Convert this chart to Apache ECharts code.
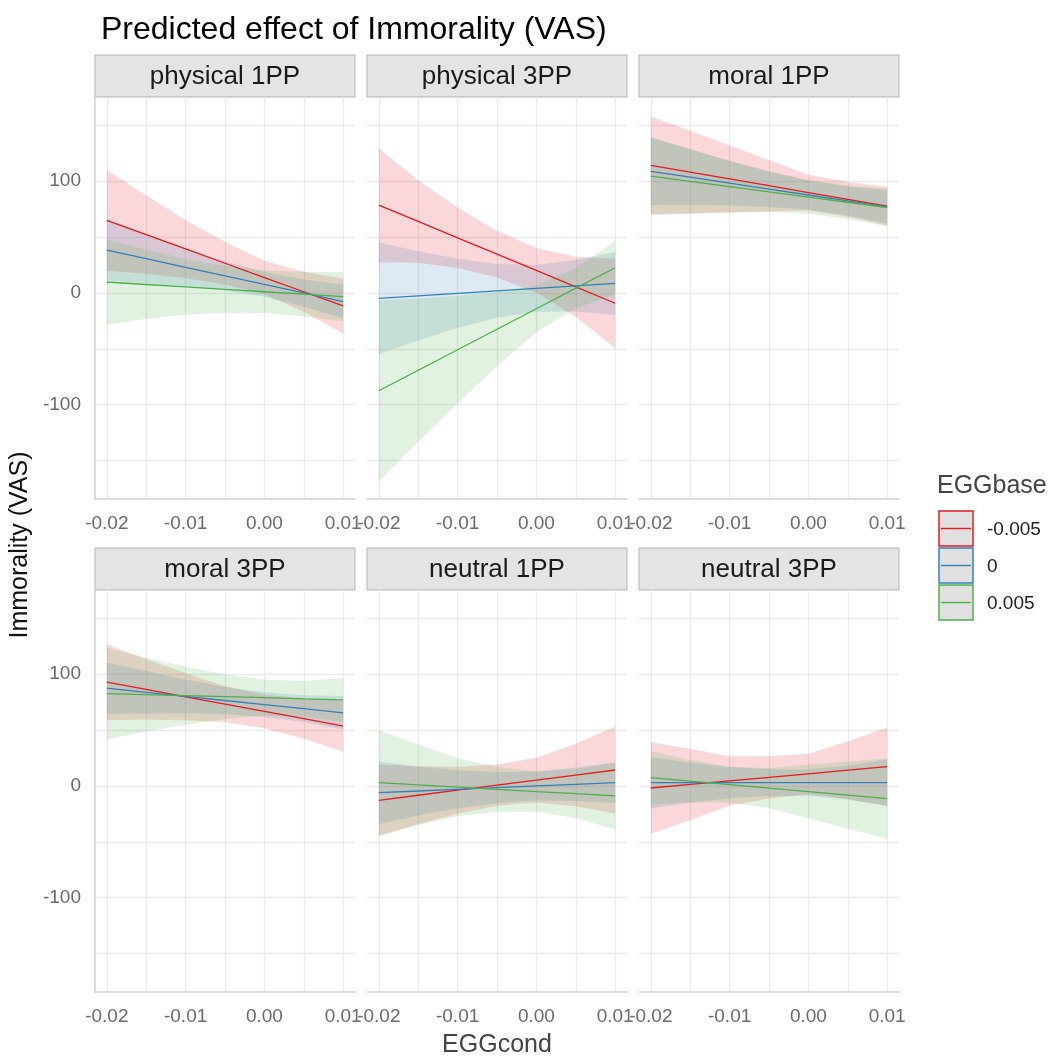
<!DOCTYPE html>
<html><head><meta charset="utf-8">
<script src="https://cdn.jsdelivr.net/npm/echarts@6/dist/echarts.min.js"></script>
<style>html,body{margin:0;padding:0;background:#fff}#c{width:1054px;height:1064px}</style>
</head><body><div id="c"></div>
<script>
// ---------- data ----------
const eggcond = [-0.02, -0.015, -0.01, -0.005, 0, 0.005, 0.01];
const eggbase = ['-0.005', '0', '0.005'];
const panelNames = ['physical 1PP', 'physical 3PP', 'moral 1PP', 'moral 3PP', 'neutral 1PP', 'neutral 3PP'];
const xTickLabels = [-0.02, -0.01, 0.00, 0.01];
const xGridValues = [-0.02, -0.015, -0.01, -0.005, 0, 0.005, 0.01];
const yTickLabels = [-100, 0, 100];
const yGridValues = [-150, -100, -50, 0, 50, 100, 150];

// per panel: rows = EGGbase -0.005, 0, 0.005
const phys1_fit = [[65, 52.2, 39.4, 26.6, 13.8, 1.1, -11.6], [38.4, 30.7, 23, 15.3, 7.7, 0, -7.7], [9.8, 7.6, 5.4, 3.2, 1.1, -1.1, -3.3]];
const phys1_hi  = [[110, 87.2, 65.4, 45.6, 28.8, 19.1, 13], [65.4, 52.7, 40, 28.3, 18.7, 12, 7.3], [47.8, 38.6, 30.4, 24.2, 20.1, 18.9, 18.7]];
const phys1_lo  = [[20, 17.2, 13.4, 7.6, -1.2, -16.9, -36.2], [11.4, 8.7, 6, 2.3, -3.3, -12, -22.7], [-28.2, -23.4, -19.6, -17.8, -17.9, -21.1, -25.3]];

const phys3_fit = [[78.6, 64, 49.4, 34.8, 20.2, 5.5, -9.2], [-4.8, -2.6, -0.3, 1.9, 4.1, 6.4, 8.6], [-87.5, -69.2, -50.8, -32.5, -14.1, 4.3, 22.6]];
const phys3_hi  = [[129.6, 101, 76.4, 55.8, 40.2, 32.5, 30.8], [45.2, 37.4, 30.7, 25.9, 25.1, 29.4, 36.6], [-6.5, -5.2, -2.8, 0.5, 6.9, 22.3, 46.6]];
const phys3_lo  = [[27.6, 27, 22.4, 13.8, 0.2, -21.5, -49.2], [-54.8, -42.6, -31.3, -22.1, -16.9, -16.6, -19.4], [-168.5, -133.2, -98.8, -65.5, -35.1, -13.7, -1.4]];

const moral1_fit = [[114.3, 108.2, 102.1, 96, 89.9, 83.8, 77.7], [108.9, 103.6, 98.3, 93, 87.7, 82.4, 77.1], [104.5, 99.8, 95.2, 90.5, 85.8, 81.2, 76.5]];
const moral1_hi  = [[158, 145.2, 132.1, 119, 105.9, 99.4, 95], [138.9, 128.6, 118.3, 109, 100.7, 95.4, 92.1], [139.5, 128.8, 118.2, 108.5, 100.8, 96.2, 93.5]];
const moral1_lo  = [[70.6, 71.2, 72.1, 73, 73.9, 68.2, 60.4], [78.9, 78.6, 78.3, 77, 74.7, 69.4, 62.1], [69.5, 70.8, 72.2, 72.5, 70.8, 66.2, 59.5]];

const moral3_fit = [[92.9, 86.4, 79.8, 73.3, 66.7, 60.2, 53.6], [87.5, 83.8, 80.2, 76.5, 72.8, 69.2, 65.5], [82.7, 81.8, 80.8, 79.9, 79, 78, 77.1]];
const moral3_hi  = [[126.9, 113.4, 100.8, 89.3, 81.7, 78.2, 76.6], [110.5, 102.8, 95.2, 88.5, 83.8, 81.2, 80.5], [123.7, 114.8, 106.8, 99.9, 95, 94, 96.7]];
const moral3_lo  = [[58.9, 59.4, 58.8, 57.3, 51.7, 42.2, 30.6], [64.5, 64.8, 65.2, 64.5, 61.8, 57.2, 50.5], [41.7, 48.8, 54.8, 59.9, 63, 62, 57.5]];

const neut1_fit = [[-12.8, -8.3, -3.8, 0.8, 5.3, 9.8, 14.3], [-6, -4.5, -3, -1.5, 0, 1.5, 3], [3, 1, -1, -3, -5, -6.9, -8.9]];
const neut1_hi  = [[19.2, 17.7, 17.2, 19.3, 25.3, 37.8, 53.3], [22, 17.5, 14, 12.5, 13, 16.5, 21], [50, 37, 25, 17, 13, 15.1, 21.1]];
const neut1_lo  = [[-44.8, -34.3, -24.8, -17.7, -14.7, -18.2, -24.7], [-34, -26.5, -20, -15.5, -13, -13.5, -15], [-44, -35, -27, -23, -23, -28.9, -38.9]];

const neut3_fit = [[-1.8, 1.4, 4.6, 7.7, 10.9, 14.1, 17.3], [3, 3, 3, 3, 3, 3, 3], [7.4, 4.3, 1.2, -1.9, -5, -8.2, -11.3]];
const neut3_hi  = [[39.2, 33.4, 26.6, 26.7, 28.9, 40.1, 52.3], [26, 21, 17, 15, 15, 18, 24], [31.4, 23.3, 17.2, 16.1, 19, 21.8, 24.7]];
const neut3_lo  = [[-42.8, -30.6, -17.4, -11.3, -7.1, -11.9, -17.7], [-20, -15, -11, -9, -9, -12, -18], [-16.6, -14.7, -14.8, -19.9, -29, -38.2, -47.3]];

const panelFit = [phys1_fit, phys3_fit, moral1_fit, moral3_fit, neut1_fit, neut3_fit];
const panelHi  = [phys1_hi, phys3_hi, moral1_hi, moral3_hi, neut1_hi, neut3_hi];
const panelLo  = [phys1_lo, phys3_lo, moral1_lo, moral3_lo, neut1_lo, neut3_lo];

// ---------- style / layout ----------
const lineColors = ['#E41A1C', '#377EB8', '#4DAF4A'];
const bandColors = ['rgba(228,26,28,0.17)', 'rgba(55,126,184,0.17)', 'rgba(77,175,74,0.17)'];
const FONT = '"Liberation Sans", Arial, sans-serif';
const colLeft = [95, 367, 639];
const panelW = 260;
const rowTop = [97, 590];
const panelH = 402;
const stripH = 42;

const grids = [], xAxes = [], yAxes = [], series = [], graphics = [];

for (let p = 0; p < 6; p++) {
  const col = p % 3, row = Math.floor(p / 3);
  grids.push({left: colLeft[col], top: rowTop[row], width: panelW, height: panelH,
    containLabel: false, outerBoundsMode: 'none'});
  xAxes.push({
    type: 'value', gridIndex: p, min: -0.0215, max: 0.0115,
    axisLine: {show: true, onZero: false, lineStyle: {color: '#d2d2d2', width: 1.5}},
    axisTick: {show: false, customValues: xGridValues},
    axisLabel: {show: true, customValues: xTickLabels, formatter: v => v.toFixed(2),
      color: '#6b6b6b', fontSize: 19, fontFamily: FONT, margin: 15},
    splitLine: {show: true, lineStyle: {color: '#ebebeb', width: 1.3}}
  });
  yAxes.push({
    type: 'value', gridIndex: p, min: -184.4, max: 175.4,
    axisLine: {show: col === 0, onZero: false, lineStyle: {color: '#d2d2d2', width: 1.5}},
    axisTick: {show: false, customValues: yGridValues},
    axisLabel: {show: col === 0, customValues: yTickLabels, color: '#6b6b6b',
      fontSize: 19, fontFamily: FONT, margin: 14},
    splitLine: {show: true, lineStyle: {color: '#ebebeb', width: 1.3}}
  });
  // ribbons
  for (let g = 0; g < 3; g++) {
    const lo = panelLo[p][g], hi = panelHi[p][g];
    series.push({
      type: 'custom', xAxisIndex: p, yAxisIndex: p, silent: true, z: 1,
      data: eggcond.map((x, i) => [x, lo[i], hi[i]]),
      encode: {x: 0, y: [1, 2]},
      renderItem: function (params, api) {
        if (params.dataIndex !== 0) return null;
        const pts = [];
        for (let i = 0; i < eggcond.length; i++) pts.push(api.coord([eggcond[i], hi[i]]));
        for (let i = eggcond.length - 1; i >= 0; i--) pts.push(api.coord([eggcond[i], lo[i]]));
        return {type: 'polygon', shape: {points: pts}, style: {fill: bandColors[g]}};
      }
    });
  }
  // lines
  for (let g = 0; g < 3; g++) {
    series.push({
      type: 'line', name: eggbase[g], xAxisIndex: p, yAxisIndex: p, z: 3,
      data: eggcond.map((x, i) => [x, panelFit[p][g][i]]),
      showSymbol: false, symbol: 'none', silent: true,
      lineStyle: {color: lineColors[g], width: 1.3}, itemStyle: {color: lineColors[g]}
    });
  }
  // strip
  const sTop = rowTop[row] - stripH;
  graphics.push({type: 'rect', shape: {x: colLeft[col], y: sTop, width: panelW, height: stripH},
    style: {fill: '#e4e4e4', stroke: '#b5b5b5', lineWidth: 1}, silent: true});
  graphics.push({type: 'text', x: colLeft[col] + panelW / 2, y: sTop + stripH / 2 + 1,
    style: {text: panelNames[p], font: '26px ' + FONT, fill: '#1a1a1a',
      textAlign: 'center', textVerticalAlign: 'middle', align: 'center', verticalAlign: 'middle'}, silent: true});
}

// axis titles
graphics.push({type: 'text', x: 497, y: 1045,
  style: {text: 'EGGcond', font: '25px ' + FONT, fill: '#444',
    textAlign: 'center', textVerticalAlign: 'middle', align: 'center', verticalAlign: 'middle'}});
graphics.push({type: 'text', x: 20, y: 545, rotation: Math.PI / 2,
  style: {text: 'Immorality (VAS)', font: '25px ' + FONT, fill: '#111',
    textAlign: 'center', textVerticalAlign: 'middle', align: 'center', verticalAlign: 'middle'}});

// legend
graphics.push({type: 'text', x: 937, y: 486,
  style: {text: 'EGGbase', font: '25px ' + FONT, fill: '#444',
    textAlign: 'left', textVerticalAlign: 'middle', align: 'left', verticalAlign: 'middle'}});
for (let g = 0; g < 3; g++) {
  const ky = 511 + g * 37;
  graphics.push({type: 'rect', shape: {x: 939, y: ky, width: 34, height: 35},
    style: {fill: '#e0e0e0', stroke: lineColors[g], lineWidth: 1.5}});
  graphics.push({type: 'line', shape: {x1: 941, y1: ky + 17.5, x2: 971, y2: ky + 17.5},
    style: {stroke: lineColors[g], lineWidth: 1.4}});
  graphics.push({type: 'text', x: 987, y: ky + 19,
    style: {text: eggbase[g], font: '19px ' + FONT, fill: '#222',
      textAlign: 'left', textVerticalAlign: 'middle', align: 'left', verticalAlign: 'middle'}});
}

const chart = echarts.init(document.getElementById('c'), null, {renderer: 'canvas'});
chart.setOption({
  animation: false,
  backgroundColor: '#fff',
  title: {text: 'Predicted effect of Immorality (VAS)', left: 96, top: 9,
    textStyle: {fontSize: 32, fontWeight: 'normal', color: '#000', fontFamily: FONT}},
  grid: grids, xAxis: xAxes, yAxis: yAxes, series: series,
  graphic: {elements: graphics}
});
</script></body></html>
